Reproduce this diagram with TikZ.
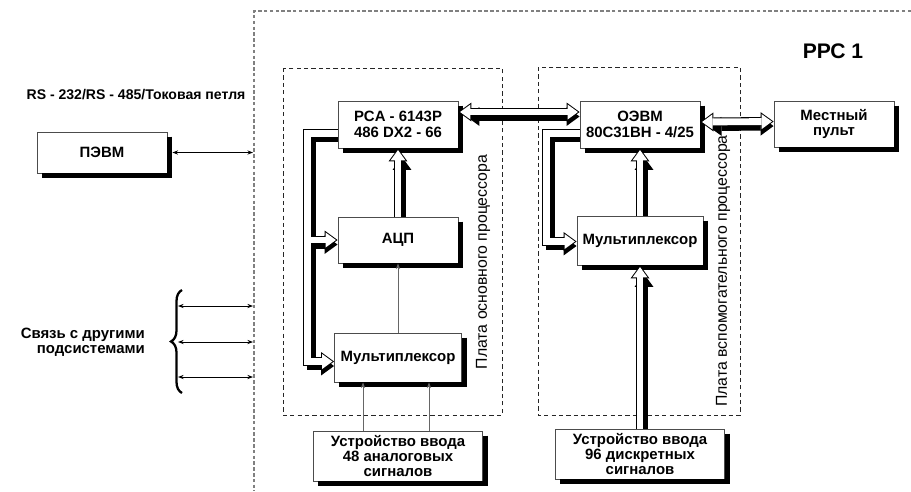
\documentclass[tikz,border=0pt]{standalone}
\usepackage{fontspec}
\setmainfont{Liberation Sans}
\usetikzlibrary{arrows.meta, positioning, calc, decorations.pathreplacing}
\pgfdeclarelayer{under}
\pgfdeclarelayer{over}
\pgfsetlayers{under,main,over}
\newcommand{\boxfont}{\fontsize{8.5}{8.8}\selectfont\bfseries}

\begin{document}
\begin{tikzpicture}[x=0.02cm, y=-0.02cm,
    box/.style={rectangle, draw=black!70, line width=0.5pt, fill=white,
                inner sep=1pt, align=center, font=\boxfont},
    shadowline/.style={draw=black, line width=2.85pt},
    board/.style={draw=black!85, line width=0.45pt, dash pattern=on 2.4pt off 1.8pt},
    frame/.style={draw=black!50, line width=0.7pt, dash pattern=on 2pt off 1.3pt},
    boardlabel/.style={rotate=90, font=\fontsize{9}{10}\selectfont},
    busshadow/.style={draw=black, line width=5.1pt, shorten <=2.3pt, shorten >=2.3pt,
                >={Triangle[length=7.4pt, width=10.8pt, line width=0pt]},
                transform canvas={shift={(4,4.5)}}},
    busedge/.style={draw=black, line width=5.1pt,
                >={Triangle[length=7.4pt, width=10.8pt, line width=0pt]}},
    busfill/.style={draw=white, line width=3.9pt,
                >={Triangle[length=5.9pt, width=8.6pt, sep=0.95pt, line width=0pt]}},
    wire/.style={draw=black!60, line width=0.5pt, -{Stealth[length=3.2pt, width=2.4pt]}},
    link/.style={draw=black, line width=0.5pt,
                {Stealth[length=3.2pt, width=2.4pt]}-{Stealth[length=3.2pt, width=2.4pt]}}
]
\useasboundingbox (0,0) rectangle (911,491);

% blocks
\node[box, minimum width=2.6cm, minimum height=0.82cm] (pevm) at (102,152.5) {ПЭВМ};
\node[box, minimum width=2.4cm, minimum height=0.94cm] (pca) at (398,124.5) {PCA - 6143P\\486 DX2 - 66};
\node[box, minimum width=2.4cm, minimum height=0.92cm] (adc) at (398,240) {АЦП};
\node[box, minimum width=2.54cm, minimum height=0.98cm] (muxa) at (398,357.5) {Мультиплексор};
\node[box, minimum width=3.38cm, minimum height=1cm] (inpa) at (398,456) {Устройство ввода\\48 аналоговых\\сигналов};
\node[box, minimum width=2.4cm, minimum height=0.94cm] (oevm) at (640,124.5) {ОЭВМ\\80C31BH - 4/25};
\node[box, minimum width=2.52cm, minimum height=0.98cm] (muxb) at (640,240.5) {Мультиплексор};
\node[box, minimum width=3.38cm, minimum height=1cm] (inpb) at (640,454) {Устройство ввода\\96 дискретных\\сигналов};
\node[box, minimum width=2.4cm, minimum height=0.92cm] (pult) at (834,124) {Местный\\пульт};

% texts
\node[font=\bfseries\fontsize{12}{14}\selectfont] (rpc) at (833,51) {РРС 1};
\node[font=\bfseries\fontsize{8}{9}\selectfont] (rslabel) at (136,95) {RS - 232/RS - 485/Токовая петля};
\node[font=\boxfont, align=right, anchor=east] (sublabel) at (151,342) {Связь с другими\\подсистемами};
\node[boardlabel] (boardalabel) at (483,262) {Плата основного процессора};
\node[boardlabel] (boardblabel) at (723,271) {Плата вспомогательного процессора};

\begin{pgfonlayer}{under}
  \draw[frame] (911,11) -- (254,11) -- (254,491);
  \draw[board] (283,68) rectangle (502,415);
  \draw[board] (538,67) rectangle (740,415);
\end{pgfonlayer}

\begin{pgfonlayer}{over}
  % shadows of the blocks
  \draw[shadowline] ([xshift=0.05cm, yshift=-0.1cm]pevm.north east) -- ([xshift=0.05cm, yshift=-0.05cm]pevm.south east) -- ([xshift=0.1cm, yshift=-0.05cm]pevm.south west);
  \draw[shadowline] ([xshift=0.05cm, yshift=-0.1cm]pca.north east) -- ([xshift=0.05cm, yshift=-0.05cm]pca.south east) -- ([xshift=0.1cm, yshift=-0.05cm]pca.south west);
  \draw[shadowline] ([xshift=0.05cm, yshift=-0.1cm]adc.north east) -- ([xshift=0.05cm, yshift=-0.05cm]adc.south east) -- ([xshift=0.1cm, yshift=-0.05cm]adc.south west);
  \draw[shadowline] ([xshift=0.05cm, yshift=-0.1cm]muxa.north east) -- ([xshift=0.05cm, yshift=-0.05cm]muxa.south east) -- ([xshift=0.1cm, yshift=-0.05cm]muxa.south west);
  \draw[shadowline] ([xshift=0.05cm, yshift=-0.1cm]inpa.north east) -- ([xshift=0.05cm, yshift=-0.05cm]inpa.south east) -- ([xshift=0.1cm, yshift=-0.05cm]inpa.south west);
  \draw[shadowline] ([xshift=0.05cm, yshift=-0.1cm]oevm.north east) -- ([xshift=0.05cm, yshift=-0.05cm]oevm.south east) -- ([xshift=0.1cm, yshift=-0.05cm]oevm.south west);
  \draw[shadowline] ([xshift=0.05cm, yshift=-0.1cm]muxb.north east) -- ([xshift=0.05cm, yshift=-0.05cm]muxb.south east) -- ([xshift=0.1cm, yshift=-0.05cm]muxb.south west);
  \draw[shadowline] ([xshift=0.05cm, yshift=-0.1cm]inpb.north east) -- ([xshift=0.05cm, yshift=-0.05cm]inpb.south east) -- ([xshift=0.1cm, yshift=-0.05cm]inpb.south west);
  \draw[shadowline] ([xshift=0.05cm, yshift=-0.1cm]pult.north east) -- ([xshift=0.05cm, yshift=-0.05cm]pult.south east) -- ([xshift=0.1cm, yshift=-0.05cm]pult.south west);

  \foreach \lay in {busshadow,busedge,busfill} {
    \draw[\lay, <->] ([yshift=0.25cm]pca.east) -- ([yshift=0.25cm]oevm.west);
    \draw[\lay, <->] ([yshift=0.05cm]oevm.east) -- ([yshift=0.05cm]pult.west);
    \draw[\lay, ->] (adc) -- (pca);
    \draw[\lay, ->] (muxb) -- (oevm);
    \draw[\lay, ->] (inpb) -- (muxb);
    \draw[\lay, ->] ([yshift=-0.18cm]pca.west) -- ++(-30.5,0) |- ([yshift=-0.08cm]muxa.west);
    \draw[\lay, ->] ([xshift=-0.61cm]adc.west) -- (adc.west);
    \draw[\lay, ->] ([yshift=-0.18cm]oevm.west) -- ++(-33,0) |- ([yshift=-0.02cm]muxb.west);
  }
  \draw[wire] (muxa) -- (adc);
  \draw[wire] ([xshift=-0.7cm]inpa.north) -- ([xshift=-0.7cm]muxa.south);
  \draw[wire] ([xshift=0.62cm]inpa.north) -- ([xshift=0.62cm]muxa.south);
  \coordinate (pevmport) at (253,152.5);
  \draw[link] ([xshift=0.1cm]pevm.east) -- (pevmport);
  \foreach \y/\n in {306/1,342/2,377/3} {
    \coordinate (sub\n) at (178,\y);
    \coordinate (port\n) at (253,\y);
    \draw[link] (sub\n) -- (port\n);
  }
  \draw[decorate, decoration={brace, amplitude=0.22cm}, line width=1.3pt] (182,393) -- (182,290);
\end{pgfonlayer}
\end{tikzpicture}
\end{document}
